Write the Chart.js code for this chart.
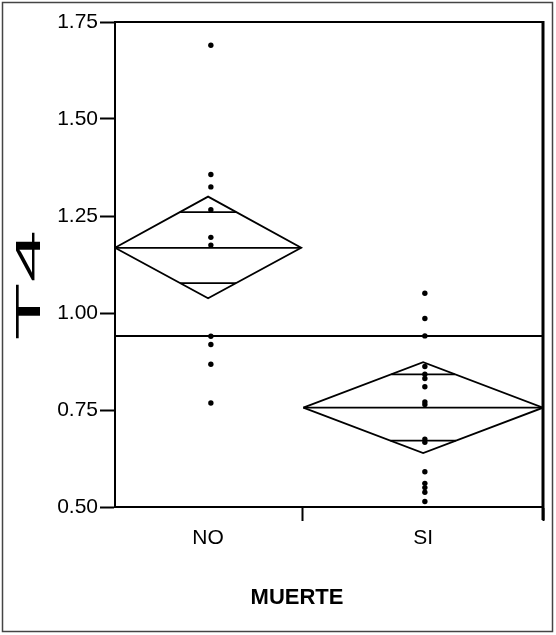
<!DOCTYPE html>
<html>
<head>
<meta charset="utf-8">
<script src="https://cdn.jsdelivr.net/npm/chart.js@4.4.0/dist/chart.umd.min.js"></script>
<style>
  html, body { margin: 0; padding: 0; background: #fff; }
  #wrap { width: 556px; height: 635px; }
</style>
</head>
<body>
<div id="wrap"><canvas id="c" width="556" height="635"></canvas></div>
<script>
// === DATOS ===
const categories = ['NO', 'SI'];
const groupStart = [0, 0.44];
const groupEnd = [0.435, 1];
const pointX = [0.224, 0.724];
const valuesNO = [1.69, 1.357, 1.325, 1.266, 1.195, 1.175, 0.94, 0.919, 0.868, 0.768];
const valuesSI = [1.051, 0.986, 0.941, 0.862, 0.842, 0.831, 0.81, 0.771, 0.764, 0.675, 0.667, 0.591, 0.561, 0.55, 0.538, 0.514];
const means = [1.168, 0.756];
const ciLow = [1.038, 0.639];
const ciHigh = [1.300, 0.873];
const overlapLow = [1.077, 0.671];
const overlapHigh = [1.260, 0.842];
const grandMean = 0.941;
const yTicks = [0.50, 0.75, 1.00, 1.25, 1.50, 1.75];
const xTicks = [0.437, 1];

const FONT = "'Liberation Sans', Arial, sans-serif";

// === DIAMANTES ===
const lineStyle = { showLine: true, pointRadius: 0, borderColor: '#000', borderWidth: 1.8, fill: false, tension: 0 };
const datasets = [];

datasets.push({ ...lineStyle, data: [{ x: 0, y: grandMean }, { x: 1, y: grandMean }], borderWidth: 2 });

categories.forEach((cat, i) => {
    const s = groupStart[i], e = groupEnd[i], m = means[i];
    const xc = (s + e) / 2;
    const half = (e - s) / 2;
    datasets.push({ ...lineStyle, data: [
        { x: s, y: m }, { x: xc, y: ciHigh[i] }, { x: e, y: m }, { x: xc, y: ciLow[i] }, { x: s, y: m }
    ] });
    datasets.push({ ...lineStyle, data: [{ x: s, y: m }, { x: e, y: m }] });
    // marcas de solapamiento, de borde a borde del diamante
    const fHi = 1 - (overlapHigh[i] - m) / (ciHigh[i] - m);
    const fLo = 1 - (m - overlapLow[i]) / (m - ciLow[i]);
    datasets.push({ ...lineStyle, data: [{ x: xc - fHi * half, y: overlapHigh[i] }, { x: xc + fHi * half, y: overlapHigh[i] }] });
    datasets.push({ ...lineStyle, data: [{ x: xc - fLo * half, y: overlapLow[i] }, { x: xc + fLo * half, y: overlapLow[i] }] });
});

// === PUNTOS ===
[valuesNO, valuesSI].forEach((vals, i) => {
    datasets.push({
        data: vals.map(v => ({ x: pointX[i], y: v })),
        pointRadius: 2.7, pointBackgroundColor: '#000', pointBorderWidth: 0, showLine: false
    });
});

// === MARCO Y TEXTOS ===
const decor = {
    id: 'decor',
    afterDraw(chart) {
        const { ctx, chartArea: a, scales: { x } } = chart;
        ctx.save();
        ctx.strokeStyle = '#000';
        ctx.lineWidth = 2;
        ctx.beginPath();
        ctx.moveTo(a.left, a.top); ctx.lineTo(a.right, a.top);
        ctx.stroke();
        ctx.lineWidth = 3;
        ctx.beginPath();
        ctx.moveTo(a.right, a.top - 1); ctx.lineTo(a.right, a.bottom + 13);
        ctx.stroke();

        // borde exterior
        ctx.strokeStyle = '#444';
        ctx.lineWidth = 1.5;
        ctx.strokeRect(2.5, 2.5, 550, 629);

        ctx.fillStyle = '#000';
        ctx.textAlign = 'center';
        ctx.textBaseline = 'middle';
        ctx.font = '21px ' + FONT;
        categories.forEach((cat, i) => {
            ctx.fillText(cat, x.getPixelForValue((groupStart[i] + groupEnd[i]) / 2), 538);
        });
        ctx.font = 'bold 22px ' + FONT;
        ctx.fillText('MUERTE', 297, 598);

        ctx.translate(29, 285);
        ctx.rotate(-Math.PI / 2);
        ctx.scale(2.7, 1);
        ctx.font = '35px ' + FONT;
        ctx.fillText('T4', 0, 1);
        ctx.restore();
    }
};

new Chart(document.getElementById('c'), {
    type: 'scatter',
    data: { datasets },
    options: {
        responsive: false,
        animation: false,
        layout: { padding: { top: 22, right: 13, left: 0, bottom: 0 } },
        plugins: { legend: { display: false }, tooltip: { enabled: false } },
        scales: {
            x: {
                type: 'linear', min: 0, max: 1,
                afterBuildTicks: s => { s.ticks = xTicks.map(v => ({ value: v })); },
                afterFit: s => { s.height = 128; },
                ticks: { callback: () => '', autoSkip: false },
                grid: { drawOnChartArea: false, tickLength: 14, tickWidth: 2, tickColor: '#000' },
                border: { color: '#000', width: 2 }
            },
            y: {
                type: 'linear', min: 0.5, max: 1.75,
                afterBuildTicks: s => { s.ticks = yTicks.map(v => ({ value: v })); },
                afterFit: s => { s.width = 115; },
                ticks: { callback: v => v.toFixed(2), color: '#000', font: { size: 21, family: FONT }, padding: 2, autoSkip: false },
                grid: { drawOnChartArea: false, tickLength: 15, tickWidth: 2, tickColor: '#000' },
                border: { color: '#000', width: 2 }
            }
        }
    },
    plugins: [decor]
});
</script>
</body>
</html>
